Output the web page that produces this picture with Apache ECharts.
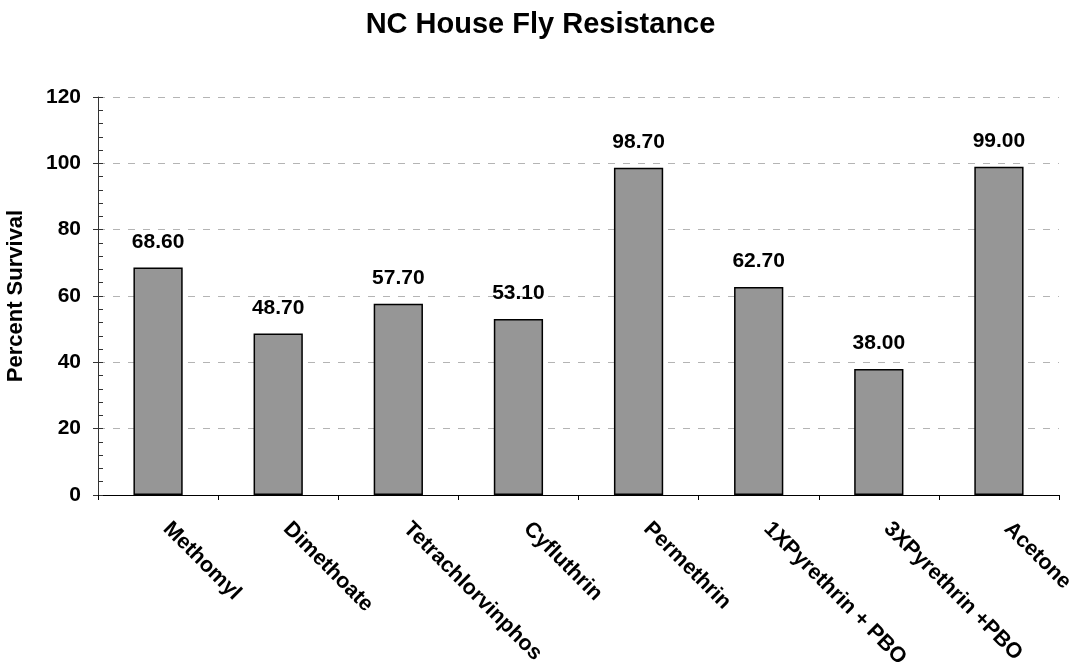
<!DOCTYPE html>
<html>
<head>
<meta charset="utf-8">
<script src="https://cdn.jsdelivr.net/npm/echarts@6/dist/echarts.min.js"></script>
<style>
  html, body { margin: 0; padding: 0; background: #fff; }
  #chart { width: 1081px; height: 668px; }
</style>
</head>
<body>
<div id="chart"></div>
<script>
// Insecticide treatments and percent survival of house flies
const categories = ['Methomyl', 'Dimethoate', 'Tetrachlorvinphos', 'Cyfluthrin', 'Permethrin', '1XPyrethrin + PBO', '3XPyrethrin +PBO', 'Acetone'];
const survival = [68.6, 48.7, 57.7, 53.1, 98.7, 62.7, 38.0, 99.0];
const yTicks = [0, 20, 40, 60, 80, 100, 120];

const font = 'Arial, "Liberation Sans", sans-serif';
const chart = echarts.init(document.getElementById('chart'));

const yBase = {
  type: 'value',
  min: yTicks[0],
  max: yTicks[yTicks.length - 1],
  interval: yTicks[1] - yTicks[0]
};

chart.setOption({
  animation: false,
  title: {
    text: 'NC House Fly Resistance',
    left: 'center',
    top: 5,
    textStyle: { fontFamily: font, fontSize: 29, fontWeight: 'bold', color: '#000' }
  },
  grid: { left: 98, right: 22, top: 97, bottom: 173, containLabel: false, outerBoundsMode: 'none' },
  xAxis: {
    type: 'category',
    data: categories,
    axisLine: { lineStyle: { color: '#000', width: 1 } },
    axisTick: { show: true, length: 5, lineStyle: { color: '#000' } },
    axisLabel: {
      rotate: -45,
      interval: 0,
      margin: 22,
      padding: [0, 0, 0, 12],
      fontFamily: font,
      fontSize: 21.5,
      fontWeight: 'bold',
      color: '#000'
    }
  },
  yAxis: [
    Object.assign({}, yBase, {
      name: 'Percent Survival',
      nameLocation: 'middle',
      nameGap: 71,
      nameTextStyle: { fontFamily: font, fontSize: 22, fontWeight: 'bold', color: '#000' },
      axisLine: { show: true, lineStyle: { color: '#333', width: 1 } },
      axisTick: { show: true, length: 5, lineStyle: { color: '#333' } },
      axisLabel: { fontFamily: font, fontSize: 21, fontWeight: 'bold', color: '#000', margin: 17 },
      splitLine: { show: true, lineStyle: { color: '#b4b4b4', type: [7, 8], width: 1 } }
    }),
    // inner ticks: major ticks crossing the axis plus minor ticks
    Object.assign({}, yBase, {
      position: 'left',
      axisLine: { show: false },
      axisTick: { show: true, inside: true, length: 5, lineStyle: { color: '#333' } },
      minorTick: { show: true, splitNumber: 5, length: 5, lineStyle: { color: '#333' } },
      axisLabel: { show: false },
      splitLine: { show: false }
    })
  ],
  series: [{
    type: 'bar',
    data: survival,
    barWidth: '41%',
    itemStyle: { color: '#969696', borderColor: '#000', borderWidth: 1.5 },
    label: {
      show: true,
      position: 'top',
      distance: 15,
      formatter: p => p.value.toFixed(2),
      fontFamily: font,
      fontSize: 21,
      fontWeight: 'bold',
      color: '#000'
    }
  }]
});
</script>
</body>
</html>
